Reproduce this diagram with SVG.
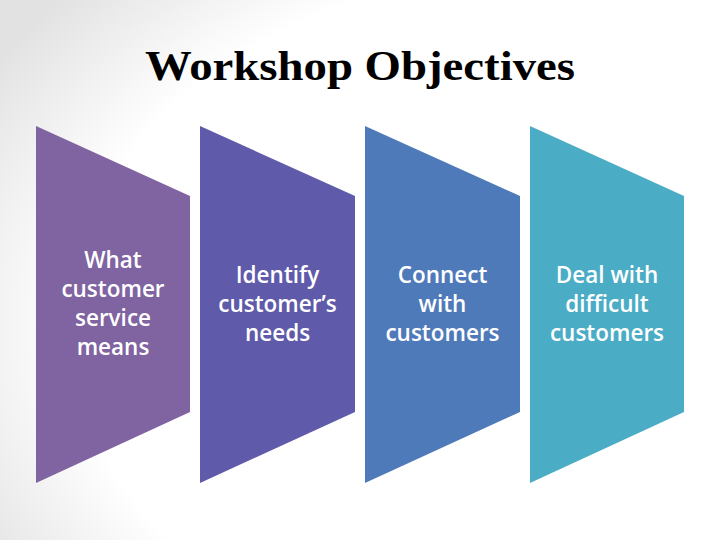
<svg xmlns="http://www.w3.org/2000/svg" width="720" height="540" viewBox="0 0 720 540">
  <defs>
    <radialGradient id="bg" cx="0.75" cy="0.6" r="0.9" fx="0.75" fy="0.6">
      <stop offset="0" stop-color="#ffffff"/>
      <stop offset="0.72" stop-color="#ffffff"/>
      <stop offset="1" stop-color="#e2e2e2"/>
    </radialGradient>
    <style>
      .title { font-family: "Liberation Serif", "DejaVu Serif", serif; font-weight: bold; font-size: 43px; fill: #000; }
      .lbl { font-family: "Open Sans", "Noto Sans", "Liberation Sans", sans-serif; font-weight: 600; font-size: 22.5px; fill: #ffffff; text-anchor: middle; }
    </style>
  </defs>
  <rect x="0" y="0" width="720" height="540" fill="url(#bg)"/>
  <text class="title" x="145" y="80" textLength="430" lengthAdjust="spacingAndGlyphs">Workshop Objectives</text>

  <g id="node1">
    <polygon points="36,126 190,196 190,412 36,483" fill="#8063A1"/>
    <text class="lbl" x="113" y="268">What</text>
    <text class="lbl" x="113" y="297">customer</text>
    <text class="lbl" x="113" y="326">service</text>
    <text class="lbl" x="113" y="355">means</text>
  </g>
  <g id="node2">
    <polygon points="200,126 355,196 355,412 200,483" fill="#5F5AAA"/>
    <text class="lbl" x="277.5" y="282.5">Identify</text>
    <text class="lbl" x="277.5" y="311.5">customer’s</text>
    <text class="lbl" x="277.5" y="340.5">needs</text>
  </g>
  <g id="node3">
    <polygon points="365,126 520,196 520,412 365,483" fill="#4F7ABA"/>
    <text class="lbl" x="442.5" y="282.5">Connect</text>
    <text class="lbl" x="442.5" y="311.5">with</text>
    <text class="lbl" x="442.5" y="340.5">customers</text>
  </g>
  <g id="node4">
    <polygon points="530,126 684,196 684,412 530,483" fill="#4BACC6"/>
    <text class="lbl" x="607" y="282.5">Deal with</text>
    <text class="lbl" x="607" y="311.5">difficult</text>
    <text class="lbl" x="607" y="340.5">customers</text>
  </g>
  <g id="connectors"/>
</svg>
